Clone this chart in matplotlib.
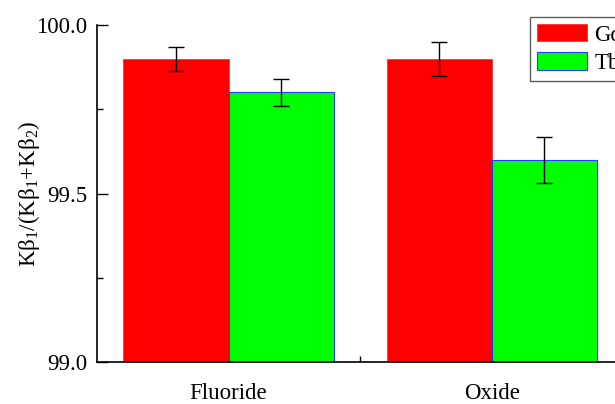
import glob
import matplotlib
matplotlib.use('Agg')
import matplotlib.pyplot as plt
from matplotlib import font_manager
import numpy as np

# Datos
categories = ['Fluoride', 'Oxide']
series = ['Gd', 'Tb']
gd_values = [99.90, 99.90]
gd_errors = [0.035, 0.05]
tb_values = [99.80, 99.60]
tb_errors = [0.04, 0.068]

# Registrar Liberation Serif por si no está en la caché
for f in glob.glob('/usr/share/fonts/**/LiberationSerif*.ttf', recursive=True):
    font_manager.fontManager.addfont(f)

plt.rcParams['font.family'] = ['Liberation Serif', 'DejaVu Serif']
plt.rcParams['mathtext.fontset'] = 'custom'
plt.rcParams['mathtext.rm'] = 'Liberation Serif'
plt.rcParams['mathtext.it'] = 'Liberation Serif'
plt.rcParams['mathtext.default'] = 'regular'

fs = 16.5

fig = plt.figure(figsize=(6.15, 4.04), dpi=100)
ax = fig.add_axes([0.1577, 0.104, 0.856, 0.834])

x = np.arange(1, len(categories) + 1)
width = 0.4

ax.bar(x - width / 2, gd_values, width, color='#FF0000', edgecolor='#FF3030',
       linewidth=0.6, label=series[0], zorder=2)
ax.bar(x + width / 2, tb_values, width, color='#00FF00', edgecolor='#2040FF',
       linewidth=0.8, label=series[1], zorder=2)
ax.errorbar(x - width / 2, gd_values, yerr=gd_errors, fmt='none', ecolor='black',
            elinewidth=1, capsize=5.5, capthick=1, zorder=3)
ax.errorbar(x + width / 2, tb_values, yerr=tb_errors, fmt='none', ecolor='black',
            elinewidth=1, capsize=5.5, capthick=1, zorder=3)

ax.set_xlim(0.5, 2.5)
ax.set_ylim(99.0, 100.0)
ax.set_yticks([99.0, 99.5, 100.0])
ax.set_yticklabels(['99.0', '99.5', '100.0'])
ax.set_yticks([99.25, 99.75], minor=True)
ax.set_xticks(x)
ax.set_xticklabels(categories)
ax.set_xticks([1.5], minor=True)

ax.tick_params(axis='y', which='major', direction='in', length=8, width=1, labelsize=fs, pad=7)
ax.tick_params(axis='y', which='minor', direction='in', length=4, width=1)
ax.tick_params(axis='x', which='major', length=0, labelsize=fs, pad=15)
ax.tick_params(axis='x', which='minor', direction='in', length=4, width=1)

for side in ['top', 'right']:
    ax.spines[side].set_visible(False)
for side in ['left', 'bottom']:
    ax.spines[side].set_linewidth(1.2)

ax.set_ylabel('Kβ$_1$/(Kβ$_1$+Kβ$_2$)', fontsize=fs, labelpad=-4)

leg = ax.legend(loc='upper left', bbox_to_anchor=(0.862, 0.958), bbox_transform=fig.transFigure,
                fontsize=fs, frameon=True, fancybox=False, borderaxespad=0,
                handlelength=2.2, handleheight=0.8, borderpad=0.3, labelspacing=0.3,
                handletextpad=0.3)
leg.get_frame().set_edgecolor('#333333')
leg.get_frame().set_linewidth(1)

plt.savefig('out.png', dpi=100)
plt.close()
